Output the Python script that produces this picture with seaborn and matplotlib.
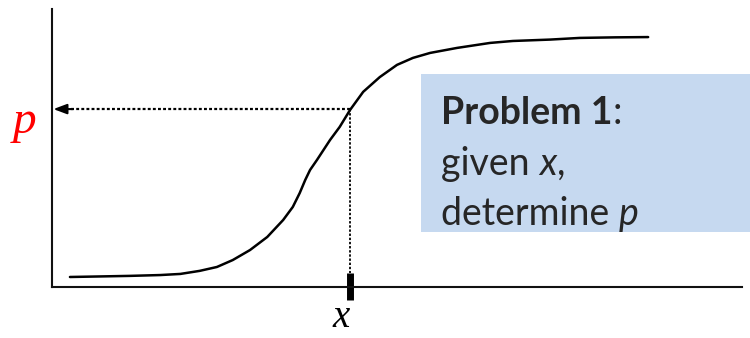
import numpy as np
import pandas as pd
import seaborn as sns
import matplotlib.pyplot as plt
from matplotlib.patches import Rectangle

# curve (x on a 0-10 scale, y = probability 0-1)
curve_x = [0.26, 0.70, 1.13, 1.57, 1.86, 2.14, 2.39, 2.62, 2.87, 3.12, 3.35,
           3.49, 3.59, 3.67, 3.74, 3.84, 4.03, 4.17, 4.32, 4.51, 4.75, 5.00,
           5.23, 5.48, 5.87, 6.35, 6.68, 7.22, 7.65, 8.16, 8.64]
curve_y = [0.036, 0.038, 0.040, 0.043, 0.047, 0.058, 0.072, 0.097, 0.133, 0.180, 0.241,
           0.288, 0.338, 0.385, 0.421, 0.457, 0.529, 0.576, 0.637, 0.702, 0.755, 0.799,
           0.824, 0.842, 0.860, 0.878, 0.885, 0.890, 0.896, 0.898, 0.899]

# the given x and the p it maps to
x_given = 4.32
p_found = 0.640

x_label = 'x'
p_label = 'p'

df = pd.DataFrame({'x': curve_x, 'p': curve_y})

sns.set_style('white')
W, H = 750, 338
fig = plt.figure(figsize=(W / 100, H / 100), dpi=100)
ax = fig.add_axes([52 / W, 51 / H, 690 / W, 278 / H])

sns.lineplot(data=df, x='x', y='p', sort=False, color='black', lw=1.8, ax=ax)

ax.set_xlim(0, 10)
ax.set_ylim(0, 1)
ax.set_xticks([])
ax.set_yticks([])
ax.set_xlabel('')
ax.set_ylabel('')
for side in ['top', 'right']:
    ax.spines[side].set_visible(False)
for side in ['left', 'bottom']:
    ax.spines[side].set_color('#111111')
    ax.spines[side].set_linewidth(1.5)

# dotted guides
ax.plot([x_given, 0.25], [p_found, p_found], color='black', lw=1.6,
        ls=(0, (1.3, 1.0)), clip_on=False)
ax.plot([x_given, x_given], [p_found, 0.05], color='black', lw=1.3,
        ls=(0, (1.3, 1.0)), clip_on=False)
# arrow head at the p axis
ax.annotate('', xy=(0.02, p_found), xytext=(0.3, p_found),
            arrowprops=dict(arrowstyle='-|>,head_length=0.8,head_width=0.3',
                            color='black', lw=1.5, shrinkA=0, shrinkB=0))
# thick tick on the x axis
ax.plot([x_given, x_given], [-0.047, 0.05], color='black', lw=5,
        solid_capstyle='butt', clip_on=False)

# axis letters
fig.text(25 / W, 1 - 133 / H, p_label, color='red', fontsize=34,
         family=['Liberation Serif'], style='italic', ha='center', va='baseline')
fig.text(341 / W, 1 - 327 / H, x_label, color='black', fontsize=28,
         family=['Liberation Serif'], style='italic', ha='center', va='baseline')

# blue box with problem text
fig.add_artist(Rectangle((421 / W, 1 - 232 / H), 329 / W, 158 / H,
                         transform=fig.transFigure, facecolor='#c6d9f0',
                         edgecolor='none', zorder=0.5))

renderer = fig.canvas.get_renderer()


def put_runs(x_px, base_px, parts):
    x = x_px
    for s, kw in parts:
        t = fig.text(x / W, 1 - base_px / H, s, ha='left', va='baseline',
                     fontsize=27, family=['Lato'], **kw)
        x += t.get_window_extent(renderer).width


put_runs(441, 124, [('Problem 1', dict(weight='bold')), (':', {})])
put_runs(441, 175, [('given ', {}), ('x', dict(style='italic')), (',', {})])
put_runs(441, 225, [('determine ', {}), ('p', dict(style='italic'))])

fig.savefig('out.png', dpi=100)
